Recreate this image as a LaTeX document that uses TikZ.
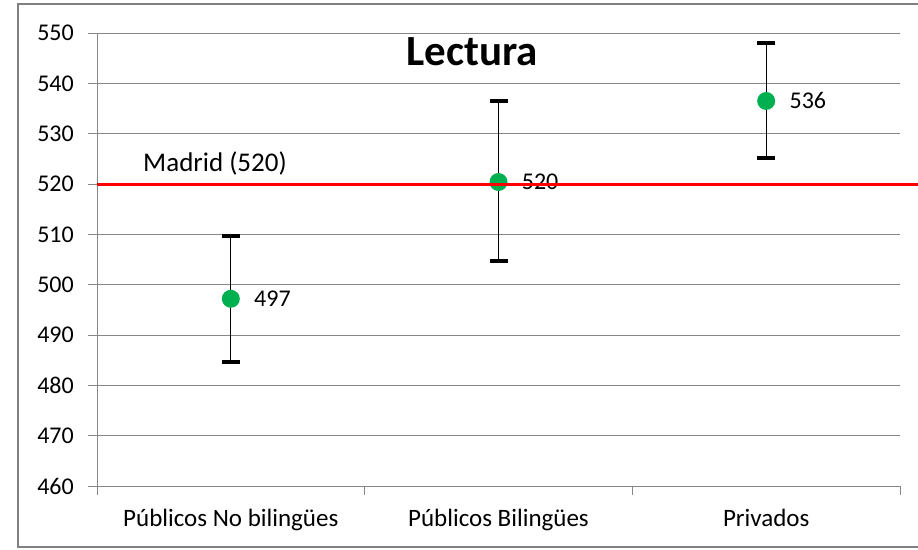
\documentclass[tikz,border=0pt]{standalone}
\usepackage{fontspec}
\setmainfont{Carlito}
\usetikzlibrary{positioning}
\definecolor{gridgray}{RGB}{134,134,134}
\definecolor{framegray}{RGB}{128,128,128}
\definecolor{dotgreen}{RGB}{0,176,80}
\definecolor{madridred}{RGB}{255,0,0}

\begin{document}
\begin{tikzpicture}[
  x=1pt, y=1pt,
  grid/.style={draw=gridgray, line width=1pt},
  ebar/.style={draw=black, line width=1pt},
  ecap/.style={draw=black, line width=4pt},
  pnt/.style={circle, fill=dotgreen, minimum size=18pt, inner sep=0},
  lbl/.style={inner sep=0, font=\fontsize{24}{28}\selectfont},
]

\useasboundingbox (0,0) rectangle (918,549);
\draw [framegray, line width=2pt] (918,545) -- (18,545) -- (18,2) -- (918,2);

\node [lbl, anchor=base, font=\bfseries\fontsize{43}{48}\selectfont] (title) at (472,483) {Lectura};

\begin{scope}[x=267.67pt, y=5.0333pt, shift={(97pt,-2252.33pt)}]
	\foreach \v in {460,470,...,550} {
		\draw [grid] ([xshift=-9pt]0,\v) -- (3,\v);
		\node [lbl, anchor=east] at ([xshift=-23pt]0,\v) {\v};
	}
	\draw [grid] (0,460) -- (0,550);
	\foreach \c in {0,...,3}
		\draw [grid] (\c,460) -- ([yshift=-9pt]\c,460);

	\foreach \c/\t in {0.5/Públicos No bilingües, 1.5/Públicos Bilingües, 2.5/Privados}
		\node [lbl, anchor=base, font=\fontsize{25}{30}\selectfont] at ([yshift=-40pt]\c,460) {\t};

	\foreach \c/\lo/\m/\hi/\n in {0.5/484.6/497.2/509.7/497, 1.5/504.7/520.4/536.5/520, 2.5/525.2/536.5/548.0/536} {
		\coordinate (lo) at (\c,\lo);
		\coordinate (hi) at (\c,\hi);
		\draw [ebar] (lo) -- (hi);
		\draw [ecap] ([xshift=-9pt]lo) -- ([xshift=9pt]lo);
		\draw [ecap] ([xshift=-9pt]hi) -- ([xshift=9pt]hi);
		\node [pnt] (pt) at (\c,\m) {};
		\node [lbl, right=14pt of pt] (val) {\n};
	}

	\coordinate (mstart) at (0,520);
	\coordinate (mend) at (3.067,520);
	\draw [madridred, line width=3pt] (mstart) -- (mend);
	\node [lbl, anchor=west, font=\fontsize{27}{32}\selectfont] (madrid) at ([yshift=21pt]0.172,520) {Madrid (520)};
\end{scope}

\end{tikzpicture}
\end{document}
